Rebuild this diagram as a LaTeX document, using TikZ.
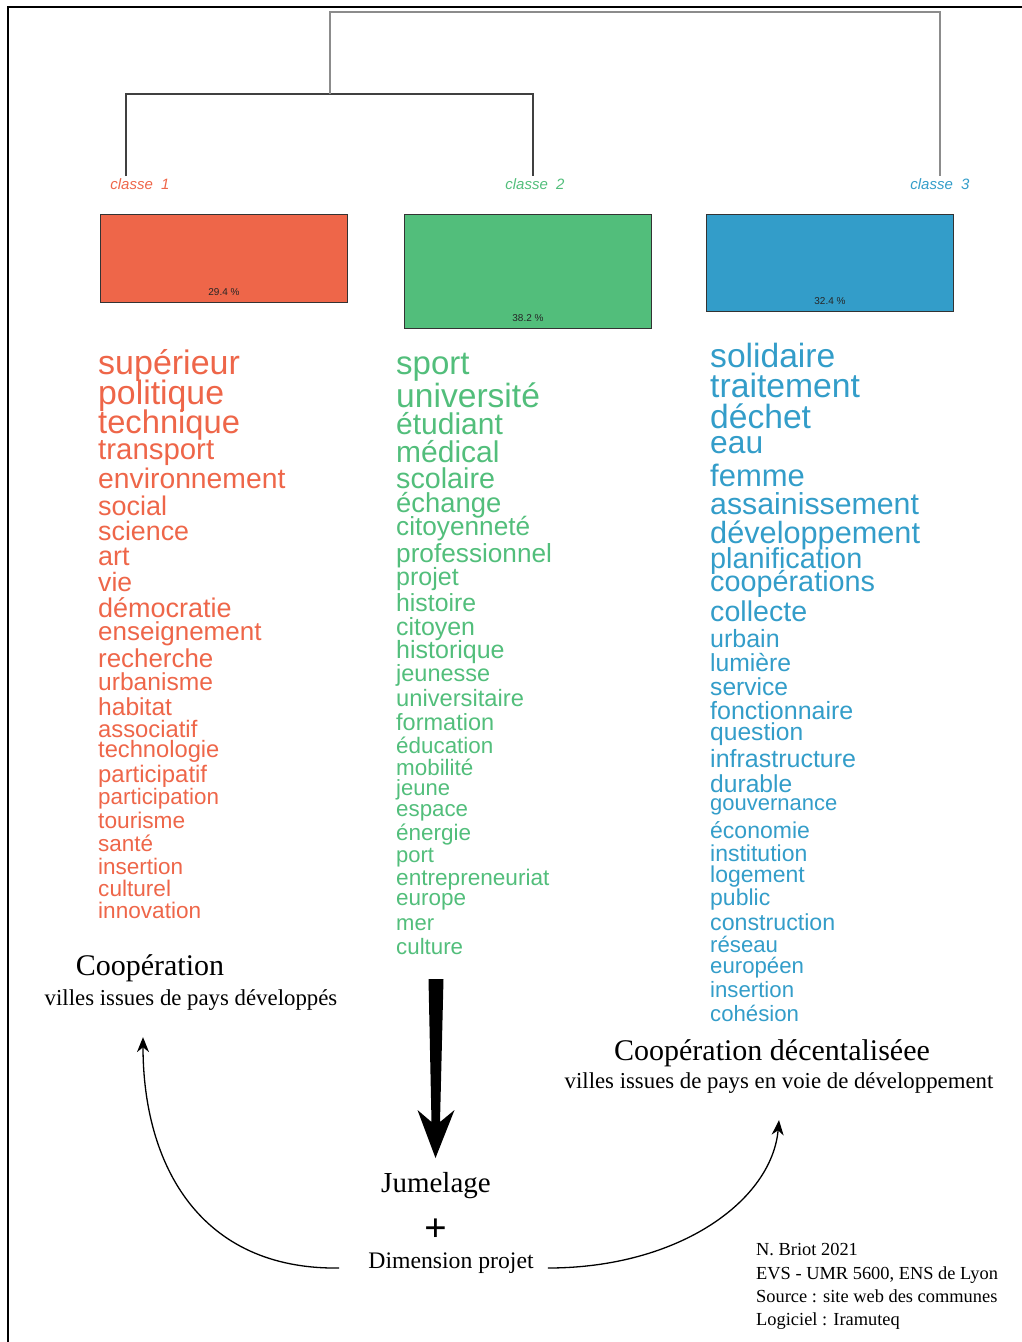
\documentclass[tikz,border=0pt]{standalone}
\usepackage{fontspec}
\setmainfont{Liberation Serif}
\setsansfont{Liberation Sans}
\usepackage{tikz}
\usetikzlibrary{arrows.meta, positioning, calc}
\definecolor{ClassRed}{HTML}{EE6649}
\definecolor{ClassGreen}{HTML}{52BE7B}
\definecolor{ClassBlue}{HTML}{339DC9}
\newcommand{\fsz}[1]{\fontsize{#1}{#1}\selectfont}
\tikzset{
  wordnode/.style={anchor=base west, inner sep=0pt},
  classlabel/.style={inner sep=1pt, font=\sffamily\itshape\fsz{15}},
  classbox/.style={rectangle, draw=black!80, line width=0.9pt, anchor=north west, minimum width=247pt},
  pctlabel/.style={anchor=base, inner sep=0pt, font=\sffamily\fsz{10}, text=black!85},
  dendroline/.style={line width=1.3pt},
  titletext/.style={anchor=base, inner sep=0pt, font=\fsz{30}},
  subtext/.style={anchor=base, inner sep=0pt, font=\fsz{22.8}},
  credittext/.style={anchor=base west, inner sep=0pt, font=\fsz{18.4}},
  curvearrow/.style={-{Stealth[length=15pt,width=12pt]}, line width=1.3pt},
  frameline/.style={line width=2.5pt}
}

\begin{document}
\begin{tikzpicture}[x=1pt, y=-1pt]
  \useasboundingbox (0,0) rectangle (1022,1342);
  \draw[frameline] (8,1342) -- (8,7) -- (1022,7);

  % dendrogram
  \node[classlabel, text=ClassRed] (c1) at (140,184) {classe\ \ 1};
  \node[classlabel, text=ClassGreen] (c2) at (535,184) {classe\ \ 2};
  \node[classlabel, text=ClassBlue] (c3) at (940,184) {classe\ \ 3};
  \coordinate (top1) at (126,176);
  \coordinate (top2) at (533,176);
  \coordinate (top3) at (940,176);
  \coordinate (m12) at (330,94);
  \coordinate (root) at (330,12);
  \draw[dendroline, black!75] (top1) |- (m12) -| (top2);
  \draw[dendroline, black!45] (m12) -- (root) -| (top3);

  % class boxes
  \node[classbox, fill=ClassRed, minimum height=88pt] (b1) at (100,214) {};
  \node[classbox, fill=ClassGreen, minimum height=114pt] (b2) at (404,214) {};
  \node[classbox, fill=ClassBlue, minimum height=97pt] (b3) at (706,214) {};
  \node[pctlabel] (p1) at ([yshift=7pt]b1.south) {29.4 \%};
  \node[pctlabel] (p2) at ([yshift=7pt]b2.south) {38.2 \%};
  \node[pctlabel] (p3) at ([yshift=7pt]b3.south) {32.4 \%};

  % word lists
  \foreach \s/\y/\w [count=\i] in {34/374/supérieur, 33.8/404/politique, 32.7/433/technique,
      29.4/459/transport, 28.3/488/environnement, 27/515/social, 26.8/540/science, 27/565/art,
      26.6/591/vie, 27/617/démocratie, 26/640/enseignement, 25.9/667/recherche, 24.6/690/urbanisme,
      24.6/715/habitat, 23.8/737/associatif, 23.7/757/technologie, 23.9/782/participatif,
      22.4/804/participation, 22.7/828/tourisme, 22.5/851/santé, 22.5/874/insertion,
      22.6/896/culturel, 22.6/918/innovation}
    \node[wordnode, text=ClassRed, font=\sffamily\fsz{\s}] (red\i) at (98,\y) {\w};

  \foreach \s/\y/\w [count=\i] in {33/374/sport, 33.6/407/université, 30/434/étudiant,
      30/462/médical, 28.7/488/scolaire, 27.4/512/échange, 26.2/535/citoyenneté,
      26.2/562/professionnel, 25/585/projet, 24.8/611/histoire, 24.9/635/citoyen,
      25/658/historique, 23.5/681/jeunesse, 23.7/706/universitaire, 23.5/730/formation,
      22.4/753/éducation, 22.4/775/mobilité, 22/795/jeune, 22.3/816/espace, 22.5/840/énergie,
      22/862/port, 22.6/885/entrepreneuriat, 22.5/905/europe, 22/930/mer, 22.3/954/culture}
    \node[wordnode, text=ClassGreen, font=\sffamily\fsz{\s}] (green\i) at (396,\y) {\w};

  \foreach \s/\y/\w [count=\i] in {33.6/367/solidaire, 33.7/397/traitement, 33.6/428/déchet,
      31.8/453/eau, 31/486/femme, 30.3/514/assainissement, 30.7/543/développement,
      28.8/568/planification, 28.8/591/coopérations, 28.6/621/collecte, 25/647/urbain,
      24.7/671/lumière, 24.6/695/service, 25/719/fonctionnaire, 24.6/740/question,
      25/767/infrastructure, 24.6/792/durable, 22/810/gouvernance, 23/838/économie,
      23/861/institution, 23/882/logement, 23/905/public, 23.2/930/construction,
      22.2/952/réseau, 22.2/973/européen, 22.2/997/insertion, 22.2/1021/cohésion}
    \node[wordnode, text=ClassBlue, font=\sffamily\fsz{\s}] (blue\i) at (710,\y) {\w};

  % captions
  \node[titletext] (coop1) at (150,975) {Coopération};
  \node[subtext] (dev1) at (191,1005) {villes issues de pays développés};
  \node[titletext] (coop2) at (772,1060) {Coopération décentaliséee};
  \node[subtext] (dev2) at (779,1088) {villes issues de pays en voie de développement};
  \node[anchor=base, inner sep=0pt, font=\fsz{29}] (jum) at (436,1192) {Jumelage};
  \node[inner sep=0pt, font=\bfseries\fsz{40}] (plus) at (436,1230) {+};
  \node[anchor=base, inner sep=0pt, font=\fsz{23.7}] (dim) at (451,1268) {Dimension projet};

  % thick arrow
  \coordinate (thick) at (436,979);
  \fill (thick) ++(-7.5,0) -- ++(15,0) -- ++(-3.5,143) -- ++(14.5,-12) -- ++(-19,48)
    -- ++(-18,-48) -- ++(14,12) -- cycle;

  % curved arrows
  \coordinate (ls) at ([xshift=-29pt]dim.base west);
  \coordinate (lt) at ([xshift=-48pt, yshift=-27pt]dev1.south);
  \coordinate (rs) at ([xshift=14pt]dim.base east);
  \coordinate (rt) at ([yshift=-27pt]dev2.south);
  \draw[curvearrow] (ls) .. controls (200,1270) and (143,1165) .. (lt);
  \draw[curvearrow] (rs) .. controls (680,1268) and (772,1200) .. (rt);

  % credits
  \node[credittext] (cr1) at (756,1255) {N. Briot 2021};
  \node[credittext] (cr2) at (756,1279) {EVS - UMR 5600, ENS de Lyon};
  \node[credittext] (cr3) at (756,1302) {Source : site web des communes};
  \node[credittext] (cr4) at (756,1325) {Logiciel : Iramuteq};
\end{tikzpicture}
\end{document}
